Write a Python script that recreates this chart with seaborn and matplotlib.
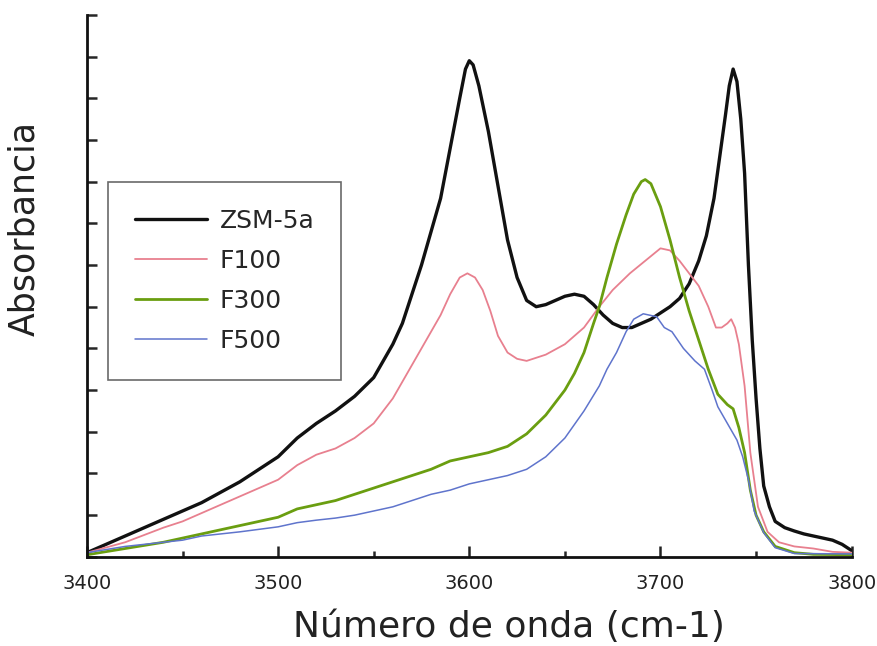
import matplotlib
matplotlib.use("Agg")
import matplotlib.pyplot as plt
import seaborn as sns
import pandas as pd

x_zsm = [3400, 3420, 3440, 3450, 3460, 3480, 3500, 3510, 3520, 3530, 3540, 3550, 3560,
         3565, 3570, 3575, 3580, 3585, 3590, 3595, 3598, 3600, 3602, 3605, 3610, 3615,
         3620, 3625, 3630, 3635, 3640, 3645, 3650, 3655, 3660, 3665, 3670, 3675, 3680,
         3685, 3690, 3695, 3700, 3705, 3710, 3715, 3720, 3724, 3728, 3731, 3734, 3736,
         3738, 3740, 3742, 3744, 3746, 3748, 3750, 3752, 3754, 3757, 3760, 3765, 3770,
         3775, 3780, 3785, 3790, 3795, 3800]
y_zsm = [0.1, 0.5, 0.9, 1.1, 1.3, 1.8, 2.4, 2.85, 3.2, 3.5, 3.85, 4.3, 5.1,
         5.6, 6.3, 7.0, 7.8, 8.6, 9.8, 11.0, 11.7, 11.9, 11.8, 11.3, 10.2, 8.9,
         7.6, 6.7, 6.15, 6.0, 6.05, 6.15, 6.25, 6.3, 6.25, 6.05, 5.8, 5.6, 5.5,
         5.5, 5.6, 5.7, 5.85, 6.0, 6.2, 6.55, 7.1, 7.7, 8.6, 9.6, 10.6, 11.3,
         11.7, 11.4, 10.5, 9.2, 7.0, 5.2, 3.8, 2.6, 1.7, 1.2, 0.85, 0.7, 0.62,
         0.55, 0.5, 0.45, 0.4, 0.3, 0.15]

x_f100 = [3400, 3420, 3440, 3450, 3460, 3480, 3500, 3510, 3520, 3530, 3540, 3550, 3560,
          3565, 3570, 3575, 3580, 3585, 3590, 3595, 3599, 3603, 3607, 3611, 3615, 3620,
          3625, 3630, 3640, 3650, 3660, 3668, 3675, 3684, 3692, 3700, 3705, 3710, 3715,
          3720, 3725, 3729, 3732, 3735, 3737, 3739, 3741, 3744, 3747, 3751, 3756, 3762,
          3770, 3780, 3790, 3800]
y_f100 = [0.1, 0.35, 0.7, 0.85, 1.05, 1.45, 1.85, 2.2, 2.45, 2.6, 2.85, 3.2, 3.8,
          4.2, 4.6, 5.0, 5.4, 5.8, 6.3, 6.7, 6.8, 6.7, 6.4, 5.9, 5.3, 4.9,
          4.75, 4.7, 4.85, 5.1, 5.5, 6.0, 6.4, 6.8, 7.1, 7.4, 7.35, 7.1, 6.8,
          6.5, 6.0, 5.5, 5.5, 5.6, 5.7, 5.5, 5.1, 4.1, 2.5, 1.2, 0.6, 0.35,
          0.25, 0.2, 0.12, 0.1]

x_f300 = [3400, 3420, 3440, 3450, 3460, 3480, 3500, 3510, 3520, 3530, 3540, 3550, 3560,
          3570, 3580, 3590, 3600, 3610, 3620, 3630, 3640, 3650, 3655, 3660, 3665, 3668,
          3672, 3677, 3682, 3686, 3690, 3692, 3695, 3700, 3705, 3710, 3715, 3720, 3725,
          3730, 3735, 3738, 3741, 3744, 3747, 3750, 3754, 3760, 3770, 3780, 3800]
y_f300 = [0.05, 0.2, 0.35, 0.45, 0.55, 0.75, 0.95, 1.15, 1.25, 1.35, 1.5, 1.65, 1.8,
          1.95, 2.1, 2.3, 2.4, 2.5, 2.65, 2.95, 3.4, 4.0, 4.4, 4.9, 5.6, 6.0,
          6.7, 7.5, 8.2, 8.7, 9.0, 9.05, 8.95, 8.4, 7.6, 6.7, 5.9, 5.2, 4.5,
          3.9, 3.65, 3.55, 3.1, 2.5, 1.6, 1.0, 0.6, 0.25, 0.1, 0.06, 0.05]

x_f500 = [3400, 3420, 3440, 3450, 3460, 3480, 3500, 3510, 3520, 3530, 3540, 3550, 3560,
          3570, 3580, 3590, 3600, 3610, 3620, 3630, 3640, 3650, 3660, 3668, 3672, 3677,
          3682, 3686, 3691, 3698, 3702, 3706, 3712, 3718, 3723, 3727, 3730, 3735, 3740,
          3743, 3746, 3749, 3754, 3760, 3770, 3800]
y_f500 = [0.1, 0.25, 0.35, 0.4, 0.5, 0.6, 0.72, 0.82, 0.88, 0.93, 1.0, 1.1, 1.2,
          1.35, 1.5, 1.6, 1.75, 1.85, 1.95, 2.1, 2.4, 2.85, 3.5, 4.1, 4.5, 4.9,
          5.4, 5.7, 5.83, 5.76, 5.5, 5.4, 5.0, 4.7, 4.5, 4.0, 3.6, 3.2, 2.8,
          2.4, 1.85, 1.1, 0.58, 0.22, 0.08, 0.07]

muestras = ["ZSM-5a", "F100", "F300", "F500"]
colores = ["#111111", "#e8808f", "#6a9e10", "#5f74cc"]
grosores = [2.4, 1.3, 2.0, 1.1]

sns.set_style("ticks")
plt.rcParams['font.family'] = ['DejaVu Sans']

fig = plt.figure(figsize=(8.78, 6.46), dpi=100)
ax = fig.add_axes([0.099, 0.138, 0.871, 0.839])

series = [(x_zsm, y_zsm), (x_f100, y_f100), (x_f300, y_f300), (x_f500, y_f500)]
for (xs, ys), nombre, c, lw in zip(series, muestras, colores, grosores):
    df = pd.DataFrame({"onda": xs, "abs": ys})
    sns.lineplot(data=df, x="onda", y="abs", ax=ax, color=c, linewidth=lw, label=nombre)

ax.set_xlim(3400, 3800)
ax.set_ylim(0, 13)
ax.set_xticks([3400, 3500, 3600, 3700, 3800])
ax.set_xticks([3450, 3550, 3650, 3750], minor=True)
ax.set_yticks(range(0, 14))
ax.set_yticklabels([])
ax.tick_params(axis="x", which="major", direction="in", length=8, width=1.8, labelsize=14, pad=12, colors="#222222")
ax.tick_params(axis="x", which="minor", direction="in", length=4, width=1.8)
ax.tick_params(axis="y", direction="in", length=7, width=1.8)
for s in ["top", "right"]:
    ax.spines[s].set_visible(False)
for s in ["left", "bottom"]:
    ax.spines[s].set_linewidth(2.0)
    ax.spines[s].set_color("#111111")

ax.set_xlabel("Número de onda (cm-1)", fontsize=26, color="#222222")
ax.set_ylabel("Absorbancia", fontsize=25, color="#222222")
ax.xaxis.set_label_coords(0.552, -0.098)
ax.yaxis.set_label_coords(-0.06, 0.605)

leg = ax.legend(loc="upper left", bbox_to_anchor=(0.027, 0.692), fontsize=18,
                frameon=True, fancybox=False, handlelength=2.9, handletextpad=0.5,
                labelspacing=0.64, borderpad=1.08, borderaxespad=0)
leg.get_frame().set_edgecolor("#444444")
leg.get_frame().set_linewidth(1.2)

plt.savefig("out.png", dpi=100)
